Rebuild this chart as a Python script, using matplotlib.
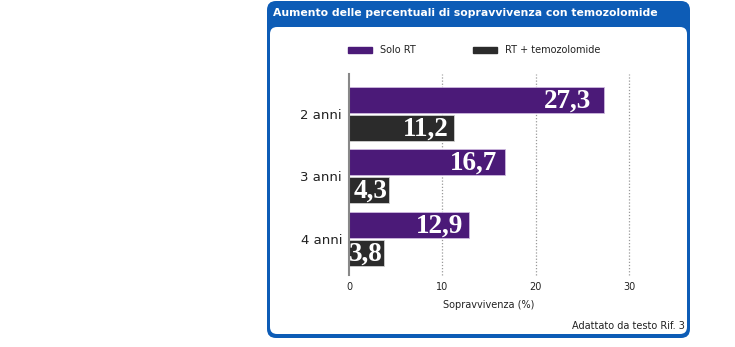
import matplotlib
matplotlib.use('Agg')
import matplotlib.pyplot as plt
from matplotlib.patches import FancyBboxPatch, Rectangle
from matplotlib.transforms import IdentityTransform

# dati di sopravvivenza (%)
anni = ['2 anni', '3 anni', '4 anni']
solo_rt = [27.3, 16.7, 12.9]
rt_temo = [11.2, 4.3, 3.8]
etichette_solo = ['27,3', '16,7', '12,9']
etichette_temo = ['11,2', '4,3', '3,8']
x_ticks = [0, 10, 20, 30]

W, H = 735, 347
VIOLA = '#4b1a78'
SCURO = '#2b2b2b'
BLU = '#0d5cb6'

fig = plt.figure(figsize=(W / 100, H / 100), dpi=100)
fig.patch.set_facecolor('white')


def box(x0, y0, x1, y1, r, color, z):
    # coordinate in pixel dall'alto
    p = FancyBboxPatch((x0 + r, H - y1 + r), (x1 - x0) - 2 * r, (y1 - y0) - 2 * r,
                       boxstyle='round,pad=%d' % r, transform=IdentityTransform(),
                       facecolor=color, edgecolor='none', zorder=z)
    fig.patches.append(p)


box(267, 1, 690, 338, 9, BLU, -2)
box(270, 27, 687, 334, 7, 'white', -1)

fig.text(273 / W, 1 - 13 / H, 'Aumento delle percentuali di sopravvivenza con temozolomide',
         color='white', fontsize=7.8, fontweight='bold', ha='left', va='center')

# legenda
for x, col, txt in [(348, VIOLA, 'Solo RT'), (473, SCURO, 'RT + temozolomide')]:
    fig.patches.append(Rectangle((x / W, 1 - 53 / H), 24 / W, 6 / H,
                                 transform=fig.transFigure, color=col))
    fig.text((x + 32) / W, 1 - 50 / H, txt, fontsize=7, color='#222222',
             ha='left', va='center')

ax = fig.add_axes([349 / W, 1 - 275 / H, 280 / W, 201 / H])
ax.set_facecolor('none')

pos = list(range(len(anni)))
h = 0.416
off = 0.224
ax.barh([p - off for p in pos], solo_rt, height=h, color=VIOLA,
        edgecolor='#cdb8de', linewidth=0.6, zorder=3)
ax.barh([p + off for p in pos], rt_temo, height=h, color=SCURO,
        edgecolor='#d0d0d0', linewidth=0.6, zorder=3)


def etichetta(p, v, t):
    # numero bianco allineato a destra dentro la barra
    ax.text(v - 0.05 * v, p + 0.02, t, color='white', fontsize=19.5, fontweight='bold',
            family='Liberation Serif', ha='right', va='center', zorder=4)


for p, v, t in zip(pos, solo_rt, etichette_solo):
    etichetta(p - off, v, t)
for p, v, t in zip(pos, rt_temo, etichette_temo):
    etichetta(p + off, v, t)

ax.set_xlim(0, 30)
ax.set_ylim(2.58, -0.64)
ax.set_yticks(pos)
ax.set_yticklabels(anni, fontsize=9.5, color='#222222')
ax.set_xticks(x_ticks)
ax.set_xticklabels([str(v) for v in x_ticks], fontsize=7, color='#222222')
ax.tick_params(length=0)
ax.tick_params(axis='y', pad=5)
ax.tick_params(axis='x', pad=5)
ax.set_xlabel('Sopravvivenza (%)', fontsize=7, color='#222222', labelpad=6)

for s in ['top', 'right', 'bottom']:
    ax.spines[s].set_visible(False)
ax.spines['left'].set_color('#888888')
ax.spines['left'].set_linewidth(1.5)
ax.spines['left'].set_zorder(5)

for v in x_ticks[1:]:
    ax.axvline(v, color='#999999', linestyle=(0, (1, 1.5)), linewidth=0.9,
               zorder=1, clip_on=False)

fig.text(685 / W, 1 - 326 / H, 'Adattato da testo Rif. 3', fontsize=7, color='#222222',
         ha='right', va='center')

fig.savefig('out.png', dpi=100)
